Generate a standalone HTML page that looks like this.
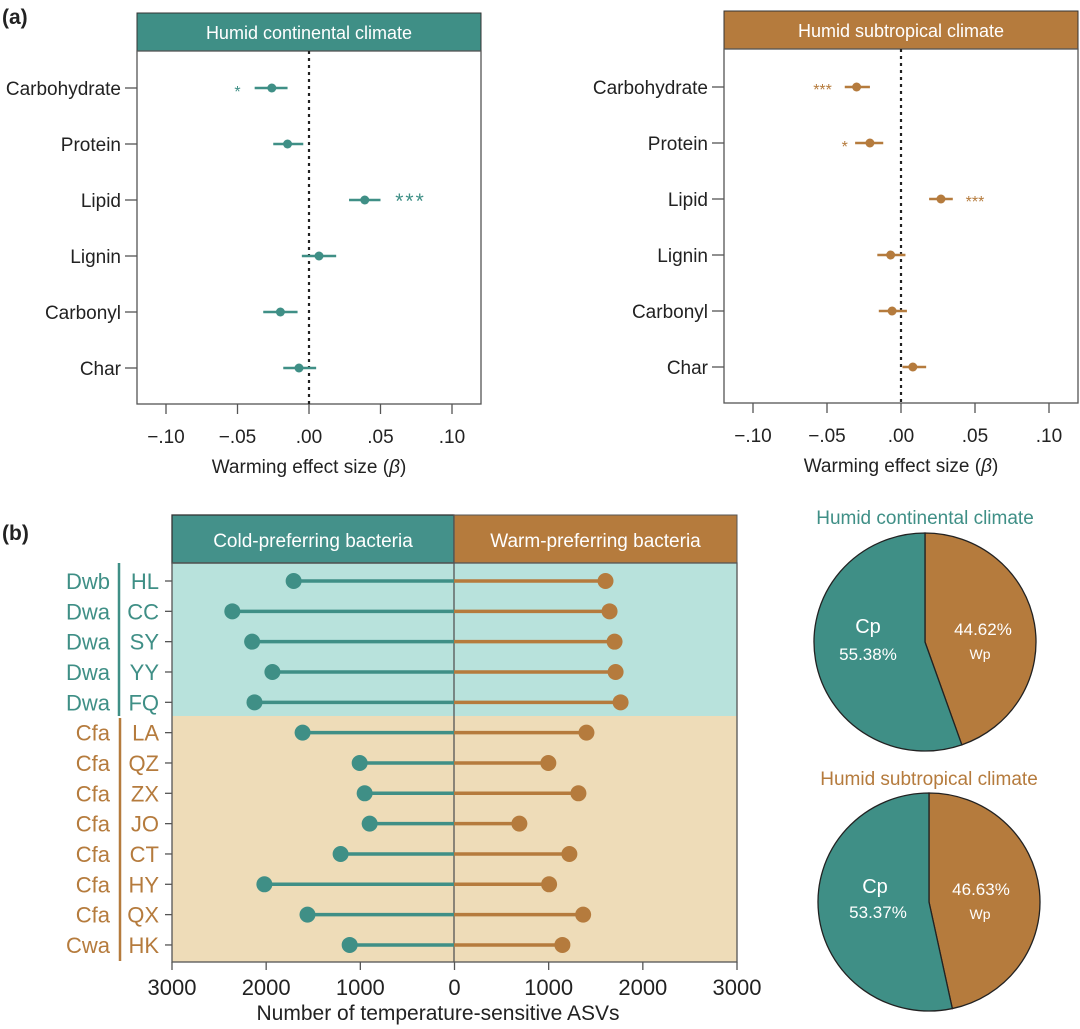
<!DOCTYPE html>
<html><head><meta charset="utf-8"><style>
body{margin:0;background:#fff}
svg{display:block;font-family:"Liberation Sans",sans-serif}
</style></head><body>
<svg id="fig" width="1080" height="1029" viewBox="0 0 1080 1029" xmlns="http://www.w3.org/2000/svg">
<text x="2" y="24" font-size="21" font-weight="bold" fill="#222">(a)</text>
<text x="2" y="540" font-size="21" font-weight="bold" fill="#222">(b)</text>
<g id="forestL"></g>
<g id="forestR"></g>
<g id="lolli"></g>
<g id="pies"></g>
</svg>
<script>
const NS="http://www.w3.org/2000/svg";
const TEAL="#3f8f86", BROWN="#b57b3d";
// ---- forest plot data ----
const categories=["Carbohydrate","Protein","Lipid","Lignin","Carbonyl","Char"];
const contEst=[-0.026,-0.015,0.039,0.007,-0.020,-0.007];
const contLo=[-0.038,-0.025,0.028,-0.005,-0.032,-0.018];
const contHi=[-0.015,-0.004,0.050,0.019,-0.008,0.005];
const contSig=["*","","***","","",""];
const contSigPos=[-0.050,0,0.071,0,0,0];
const subEst=[-0.030,-0.021,0.027,-0.007,-0.006,0.008];
const subLo=[-0.038,-0.031,0.019,-0.016,-0.015,0.001];
const subHi=[-0.021,-0.012,0.035,0.003,0.004,0.017];
const subSig=["***","*","***","","",""];
const subSigPos=[-0.053,-0.038,0.050,0,0,0];
const xTicks=[-0.10,-0.05,0,0.05,0.10];
const xTickLabels=["\u2212.10","\u2212.05",".00",".05",".10"];
// ---- lollipop data ----
const sites=["HL","CC","SY","YY","FQ","LA","QZ","ZX","JO","CT","HY","QX","HK"];
const climates=["Dwb","Dwa","Dwa","Dwa","Dwa","Cfa","Cfa","Cfa","Cfa","Cfa","Cfa","Cfa","Cwa"];
const coldVals=[1700,2350,2140,1925,2115,1605,1000,947,894,1202,2010,1553,1106];
const warmVals=[1606,1649,1702,1713,1766,1404,1000,1319,693,1223,1008,1369,1149];
const lolliTicks=[3000,2000,1000,0,1000,2000,3000];
// ---- pie data ----
const pieTitles=["Humid continental climate","Humid subtropical climate"];
const pieCp=[55.38,53.37];
const pieWp=[44.62,46.63];

function el(tag,attrs,parent,text){const e=document.createElementNS(NS,tag);for(const k in attrs)e.setAttribute(k,attrs[k]);if(text!==undefined)e.textContent=text;parent.appendChild(e);return e;}

function forest(g,cfg){
  const {L,R,T,HB,B,x0,scale,col,title,est,lo,hi,sig,sigPos,rows}=cfg;
  const X=v=>x0+v*scale;
  const Y=i=>rows[0]+i*(rows[1]-rows[0]);
  const h=el("rect",{x:L,y:T,width:R-L,height:HB-T,fill:col,stroke:"#333","stroke-width":1},g);
  
  
  const ht=el("text",{x:(L+R)/2,y:(T+HB)/2+7,"text-anchor":"middle","font-size":18,fill:"#fff"},g,title);
  
  
  const box=el("rect",{x:L,y:HB,width:R-L,height:B-HB,fill:"none",stroke:"#555","stroke-width":1.3},g);
  
  
  const zl=el("line",{x1:X(0),x2:X(0),y1:HB,y2:B,stroke:"#222","stroke-width":2.2,"stroke-dasharray":"3,4"},g);
  
  
  xTicks.forEach((t,i)=>{
    el("line",{x1:X(t),x2:X(t),y1:B,y2:B+10,stroke:"#555","stroke-width":1.3},g);
    const tl=el("text",{x:X(t),y:B+39,"text-anchor":"middle","font-size":19,fill:"#222"},g,xTickLabels[i]);
    
    
  });
  const at=el("text",{x:X(0),y:B+69,"text-anchor":"middle","font-size":19,fill:"#222"},g);
  
  
  at.innerHTML='Warming effect size (<tspan font-style="italic">β</tspan>)';
  categories.forEach((c,i)=>{
    const y=Y(i);
    el("line",{x1:L-12,x2:L,y1:y,y2:y,stroke:"#555","stroke-width":1.3},g);
    const lt=el("text",{x:L-16,y:y+7,"text-anchor":"end","font-size":19,fill:"#222"},g,c);
    
    
    const eb=el("line",{x1:X(lo[i]),x2:X(hi[i]),y1:y,y2:y,stroke:col,"stroke-width":2.5},g);
    
    
    const pt=el("circle",{cx:X(est[i]),cy:y,r:4.5,fill:col},g);
    
    
    if(sig[i]){
      const st=el("text",{x:X(sigPos[i]),y:y+(sig[i]==="***"?8:9),"text-anchor":"middle","font-size":sig[i]==="***"&&cfg.bigStar?21:16,"letter-spacing":sig[i]==="***"&&cfg.bigStar?2:0,fill:col},g,sig[i]);
      
      
    }
  });
}
forest(document.getElementById("forestL"),{L:137,R:481,T:13,HB:51,B:404,x0:309,scale:1430,col:TEAL,title:"Humid continental climate",est:contEst,lo:contLo,hi:contHi,sig:contSig,sigPos:contSigPos,rows:[88,144],bigStar:true});
forest(document.getElementById("forestR"),{L:724,R:1078,T:11,HB:49,B:403,x0:901,scale:1480,col:BROWN,title:"Humid subtropical climate",est:subEst,lo:subLo,hi:subHi,sig:subSig,sigPos:subSigPos,rows:[87,143],bigStar:false});

// lollipop
(function(){
  const g=document.getElementById("lolli");
  const L=172,R=737,Z=454,T=515,HB=563,B=962,k=(R-Z)/3000;
  const Y=i=>581+i*30.33;
  const split=716;
  el("rect",{x:L,y:HB,width:R-L,height:split-HB,fill:"#b8e2dc"},g);
  el("rect",{x:L,y:split,width:R-L,height:B-split,fill:"#eedcb8"},g);
  const h1=el("rect",{x:L,y:T,width:Z-L,height:HB-T,fill:"#44918a",stroke:"#333","stroke-width":1.3},g);
  
  
  const h2=el("rect",{x:Z,y:T,width:R-Z,height:HB-T,fill:BROWN,stroke:"#555","stroke-width":1},g);
  
  
  const t1=el("text",{x:(L+Z)/2,y:547,"text-anchor":"middle","font-size":19,fill:"#fff"},g,"Cold-preferring bacteria");
  
  
  const t2=el("text",{x:(Z+R)/2,y:547,"text-anchor":"middle","font-size":19,fill:"#fff"},g,"Warm-preferring bacteria");
  
  
  el("rect",{x:L,y:HB,width:R-L,height:B-HB,fill:"none",stroke:"#555","stroke-width":1.3},g);
  el("line",{x1:Z,x2:Z,y1:T,y2:B,stroke:"#555","stroke-width":1.3},g);
  sites.forEach((s,i)=>{
    const y=Y(i);
    const isCont=i<5; const c=isCont?TEAL:BROWN;
    el("line",{x1:165,x2:L,y1:y,y2:y,stroke:"#555","stroke-width":1.3},g);
    const sl=el("text",{x:159,y:y+8,"text-anchor":"end","font-size":22,fill:c},g,s);
    
    
    const cl=el("text",{x:110,y:y+8,"text-anchor":"end","font-size":22,fill:c},g,climates[i]);
    
    
    const xc=Z-coldVals[i]*k, xw=Z+warmVals[i]*k;
    const s1=el("line",{x1:xc,x2:Z,y1:y,y2:y,stroke:TEAL,"stroke-width":3.5},g);
    
    
    const d1=el("circle",{cx:xc,cy:y,r:8,fill:TEAL},g);
    
    
    const s2=el("line",{x1:Z,x2:xw,y1:y,y2:y,stroke:BROWN,"stroke-width":3.5},g);
    
    
    const d2=el("circle",{cx:xw,cy:y,r:8,fill:BROWN},g);
    
    
  });
  el("line",{x1:119,x2:119,y1:563,y2:716,stroke:TEAL,"stroke-width":2.5},g);
  el("line",{x1:120,x2:120,y1:718,y2:961,stroke:BROWN,"stroke-width":2.5},g);
  lolliTicks.forEach((t,i)=>{
    const x=L+i*(R-L)/6;
    el("line",{x1:x,x2:x,y1:B,y2:B+8,stroke:"#555","stroke-width":1.3},g);
    const tl=el("text",{x:x,y:B+33,"text-anchor":"middle","font-size":22,fill:"#222"},g,String(t));
    
    
  });
  const at=el("text",{x:Z-16,y:1020,"text-anchor":"middle","font-size":21,fill:"#222"},g,"Number of temperature-sensitive ASVs");
  
  
})();

// pies
(function(){
  const g=document.getElementById("pies");
  const cfgs=[{cx:925,cy:642,ty:524,col:TEAL,lab:[868,633,868,660,983,635,980,659]},{cx:929,cy:902,ty:785,col:BROWN,lab:[875,893,878,918,981,895,980,919]}];
  const rx=111,ry=109;
  cfgs.forEach((c,i)=>{
    const tt=el("text",{x:c.cx,y:c.ty,"text-anchor":"middle","font-size":19,fill:c.col},g,pieTitles[i]);
    
    
    const a=pieWp[i]/(pieCp[i]+pieWp[i])*2*Math.PI;
    const px=c.cx+rx*Math.sin(a), py=c.cy-ry*Math.cos(a);
    const w=el("path",{d:`M${c.cx},${c.cy} L${c.cx},${c.cy-ry} A${rx},${ry} 0 ${a>Math.PI?1:0} 1 ${px},${py} Z`,fill:BROWN,stroke:"#222","stroke-width":1.3},g);
    
    
    const cp=el("path",{d:`M${c.cx},${c.cy} L${px},${py} A${rx},${ry} 0 ${a>Math.PI?0:1} 1 ${c.cx},${c.cy-ry} Z`,fill:TEAL,stroke:"#222","stroke-width":1.3},g);
    
    
    const L=c.lab;
    el("text",{x:L[0],y:L[1],"text-anchor":"middle","font-size":20,fill:"#fff"},g,"Cp");
    el("text",{x:L[2],y:L[3],"text-anchor":"middle","font-size":17,fill:"#fff"},g,pieCp[i].toFixed(2)+"%");
    el("text",{x:L[4],y:L[5],"text-anchor":"middle","font-size":17,fill:"#fff"},g,pieWp[i].toFixed(2)+"%");
    el("text",{x:L[6],y:L[7],"text-anchor":"middle","font-size":14,fill:"#fff"},g,"Wp");
  });
})();
</script>
</body></html>
